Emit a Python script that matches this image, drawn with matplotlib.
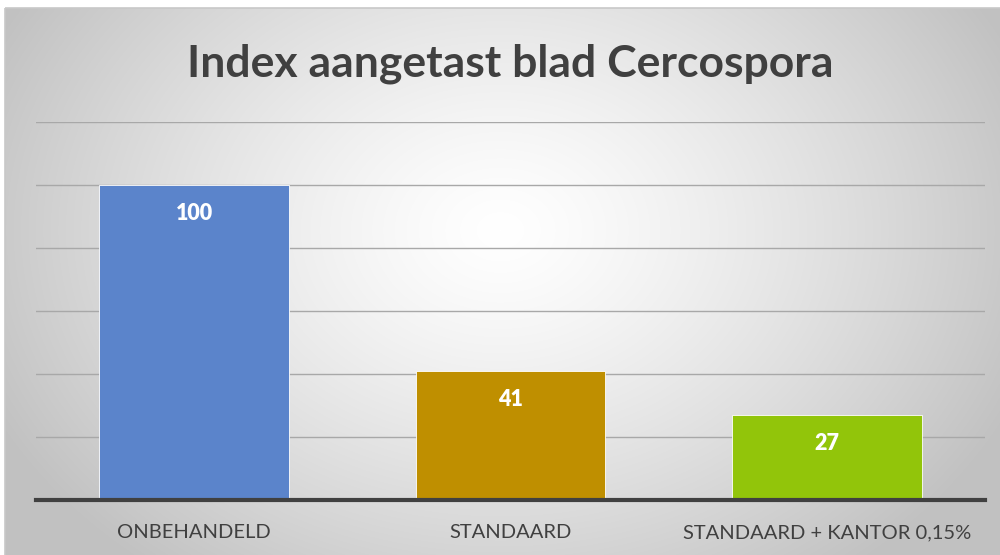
import numpy as np
import matplotlib.pyplot as plt
from matplotlib.patches import Rectangle

plt.rcParams['font.family'] = ['Lato', 'DejaVu Sans']

categories = ['ONBEHANDELD', 'STANDAARD', 'STANDAARD + KANTOR 0,15%']
values = [100, 41, 27]
colors = ['#5B84CB', '#BF8F00', '#92C50A']
title = 'Index aangetast blad Cercospora'

fig = plt.figure(figsize=[10, 5.55], dpi=100)

# radial gradient background of the chart area
bg = fig.add_axes([0, 0, 1, 1], zorder=0)
bg.axis('off')
h, w = 555, 1000
yy, xx = np.mgrid[0:h, 0:w]
r = np.sqrt(((xx - 500) / 560.0) ** 2 + ((yy - 230) / 430.0) ** 2)
r = np.clip(r, 0, 1)
shade = 1.0 - 0.24 * r ** 1.3
img = np.dstack([shade, shade, shade])
img[:8, :, :] = 1.0
img[:, :5, :] = 1.0
bg.imshow(img, extent=[0, w, h, 0], aspect='auto', interpolation='bilinear')
bg.set_xlim(0, w)
bg.set_ylim(h, 0)
bg.add_patch(Rectangle((5, 8), 1000, 560, fill=False, edgecolor='#c8c8c8', lw=1.2))

ax = fig.add_axes([0.036, 1 - 500 / 555, 0.949, (500 - 122) / 555], zorder=1)
ax.patch.set_alpha(0)
x = np.arange(len(categories))
bars = ax.bar(x, values, width=0.6, color=colors, edgecolor='white', linewidth=0.6, zorder=2)
ax.set_xlim(-0.5, 2.5)
ax.set_ylim(0, 120)
ax.set_yticks(np.arange(0, 121, 20))
ax.yaxis.grid(True, color='#a8a8a8', lw=1.0, zorder=0)
ax.tick_params(axis='y', left=False, labelleft=False)
ax.tick_params(axis='x', bottom=False, pad=14)
ax.set_xticks(x)
ax.set_xticklabels(categories, fontsize=14.5, color='#404040')
for s in ['top', 'right', 'left']:
    ax.spines[s].set_visible(False)
ax.spines['bottom'].set_color('#404040')
ax.spines['bottom'].set_linewidth(3)
ax.spines['bottom'].set_zorder(3)

for b, v in zip(bars, values):
    ax.text(b.get_x() + b.get_width() / 2, v - 9, str(v), ha='center', va='center',
            fontsize=15.5, fontweight='heavy', color='white', zorder=4)

fig.text(0.51, 1 - 64 / 555, title, ha='center', va='center', fontsize=32,
         fontweight='bold', color='#404040')

fig.savefig('out.png', dpi=100)
